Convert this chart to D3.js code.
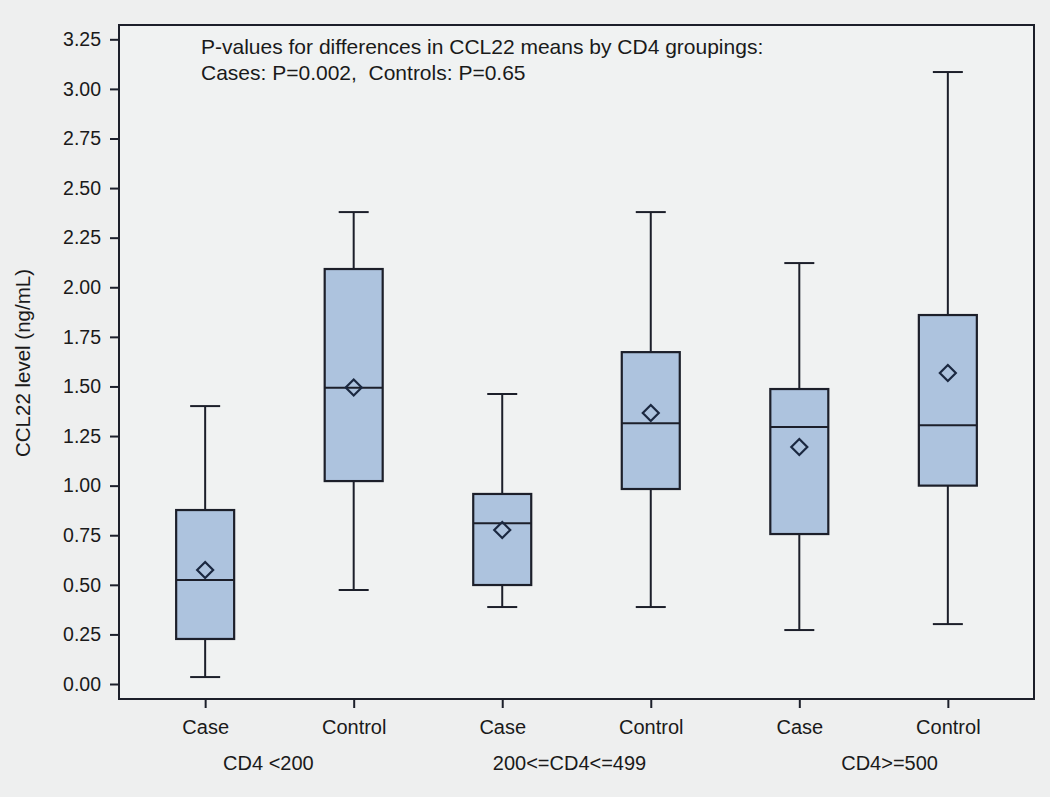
<!DOCTYPE html>
<html><head><meta charset="utf-8">
<script src="https://cdn.jsdelivr.net/npm/d3@7"></script>
<style>
html,body{margin:0;padding:0;background:#eeefef;}
svg{display:block;}
text{font-family:"Liberation Sans",Arial,sans-serif;fill:#1a1a1a;white-space:pre;}
</style></head>
<body>
<svg id="chart" width="1050" height="797"></svg>
<script>
// ---- data ----
const groups = ["CD4 <200", "200<=CD4<=499", "CD4>=500"];
const categories = ["Case", "Control"];
const whiskerLow  = [0.035, 0.474, 0.388, 0.388, 0.272, 0.302];
const q1Values    = [0.227, 1.023, 0.499, 0.983, 0.756, 1.000];
const medianValues= [0.524, 1.493, 0.811, 1.315, 1.295, 1.305];
const q3Values    = [0.877, 2.092, 0.958, 1.673, 1.487, 1.860];
const whiskerHigh = [1.401, 2.379, 1.462, 2.379, 2.122, 3.085];
const meanValues  = [0.575, 1.495, 0.776, 1.366, 1.195, 1.568];
const yTicks = [0,0.25,0.5,0.75,1,1.25,1.5,1.75,2,2.25,2.5,2.75,3,3.25];
const yLabel = "CCL22 level (ng/mL)";
const noteLines = ["P-values for differences in CCL22 means by CD4 groupings:",
                   "Cases: P=0.002,  Controls: P=0.65"];

// ---- build table ----
const rows = [];
groups.forEach((g, gi) => categories.forEach((c, ci) => {
  const i = gi * categories.length + ci;
  rows.push({key: g + "|" + c, group: g, cat: c,
    low: whiskerLow[i], q1: q1Values[i], med: medianValues[i],
    q3: q3Values[i], high: whiskerHigh[i], mean: meanValues[i]});
}));

// ---- layout ----
const L = 119, R = 1034, T = 25, B = 699;
const svg = d3.select("#chart");
svg.append("rect").attr("width",1050).attr("height",797).attr("fill","#eeefef");

const x = d3.scalePoint().domain(rows.map(d => d.key)).range([L, R]).padding(0.58);
const y = d3.scaleLinear().domain([-0.0756, 3.3221]).range([B, T]);

const ink = "#1c1f2a";
// plot area
svg.append("rect").attr("x",L).attr("y",T).attr("width",R-L).attr("height",B-T)
  .attr("fill","#f0f2f2").attr("stroke",ink).attr("stroke-width",2);

// y axis
const yAxis = svg.append("g").attr("transform",`translate(${L},0)`)
  .call(d3.axisLeft(y).tickValues(yTicks).tickFormat(d3.format(".2f")).tickSize(9).tickPadding(9));
yAxis.select(".domain").remove();
yAxis.selectAll("line").attr("stroke",ink).attr("stroke-width",2);
yAxis.selectAll("text").style("font-size","19.5px").attr("fill","#1a1a1a");

// x axis
const xAxis = svg.append("g").attr("transform",`translate(0,${B})`)
  .call(d3.axisBottom(x).tickSize(9).tickPadding(12).tickFormat(k => k.split("|")[1]));
xAxis.select(".domain").remove();
xAxis.selectAll("line").attr("stroke",ink).attr("stroke-width",2);
xAxis.selectAll("text").style("font-size","20px").attr("fill","#1a1a1a");

// group labels
const groupOffset = [-11, -7, 16];
svg.append("g").selectAll("text").data(groups).join("text")
  .attr("x", (g, i) => (x(g + "|" + categories[0]) + x(g + "|" + categories[1])) / 2 + groupOffset[i])
  .attr("y", 770).attr("text-anchor","middle").style("font-size","20px").text(g => g);

// y label
svg.append("text").attr("transform",`translate(30,${(T+B)/2 + 1}) rotate(-90)`)
  .attr("text-anchor","middle").style("font-size","20.5px").text(yLabel);

// annotation
svg.append("g").selectAll("text").data(noteLines).join("text")
  .attr("x", 201).attr("y", (d, i) => 54 + i * 26).style("font-size","21px").text(d => d);

// boxes
const boxW = 58, capW = 30;
const g = svg.append("g").selectAll("g").data(rows).join("g");
g.append("line").attr("x1", d => x(d.key)).attr("x2", d => x(d.key))
  .attr("y1", d => y(d.low)).attr("y2", d => y(d.high)).attr("stroke",ink).attr("stroke-width",2);
g.append("line").attr("x1", d => x(d.key) - capW/2).attr("x2", d => x(d.key) + capW/2)
  .attr("y1", d => y(d.high)).attr("y2", d => y(d.high)).attr("stroke",ink).attr("stroke-width",2);
g.append("line").attr("x1", d => x(d.key) - capW/2).attr("x2", d => x(d.key) + capW/2)
  .attr("y1", d => y(d.low)).attr("y2", d => y(d.low)).attr("stroke",ink).attr("stroke-width",2);
g.append("rect").attr("x", d => x(d.key) - boxW/2).attr("width", boxW)
  .attr("y", d => y(d.q3)).attr("height", d => y(d.q1) - y(d.q3))
  .attr("fill","#adc3de").attr("stroke",ink).attr("stroke-width",2.2);
g.append("line").attr("x1", d => x(d.key) - boxW/2).attr("x2", d => x(d.key) + boxW/2)
  .attr("y1", d => y(d.med)).attr("y2", d => y(d.med)).attr("stroke",ink).attr("stroke-width",2);
const ds = 8;
g.append("path").attr("d", d => {
  const cx = x(d.key), cy = y(d.mean);
  return `M${cx},${cy-ds}L${cx+ds},${cy}L${cx},${cy+ds}L${cx-ds},${cy}Z`;
}).attr("fill","none").attr("stroke","#1b2840").attr("stroke-width",2.2);
</script>
</body></html>
